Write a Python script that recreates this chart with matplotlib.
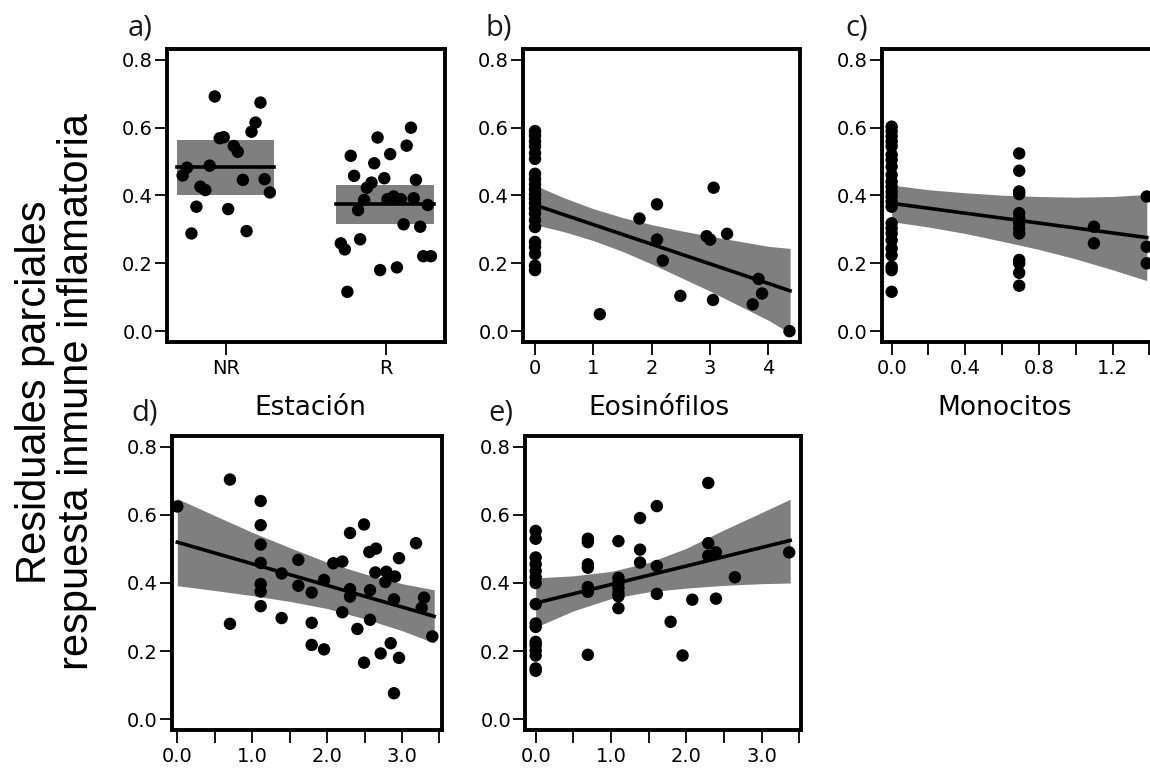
import matplotlib.pyplot as plt
import numpy as np

plt.rcParams['font.family'] = ['Liberation Sans', 'DejaVu Sans']

W, H = 1150, 769
ylo, yhi = -0.032, 0.832
yticks = [0.0, 0.2, 0.4, 0.6, 0.8]

# a) Estación (NR / R), jittered x positions around category 1 and 2
est_cats = ['NR', 'R']
nr_x = [0.929, 1.215, 1.184, 1.159, 0.960, 0.985, 1.048, 1.073, 0.755, 0.728,
        0.897, 0.839, 0.870, 1.241, 1.105, 1.274, 0.814, 1.013, 0.783, 1.128]
nr_y = [0.692, 0.674, 0.615, 0.588, 0.569, 0.572, 0.546, 0.529, 0.482, 0.459,
        0.488, 0.426, 0.416, 0.448, 0.446, 0.409, 0.367, 0.360, 0.288, 0.295]
r_x = [2.157, 1.948, 1.780, 2.130, 2.027, 1.927, 1.801, 1.990, 2.188, 1.910,
       1.881, 1.864, 1.826, 2.010, 2.048, 2.094, 2.174, 2.262, 2.111, 2.215,
       1.718, 1.743, 1.839, 2.234, 2.282, 1.964, 2.069, 1.759]
r_y = [0.600, 0.571, 0.517, 0.547, 0.522, 0.495, 0.458, 0.451, 0.446, 0.438,
       0.423, 0.387, 0.357, 0.389, 0.397, 0.389, 0.392, 0.372, 0.315, 0.308,
       0.259, 0.241, 0.271, 0.221, 0.221, 0.180, 0.188, 0.116]
est_fit = [0.483, 0.374]
est_lo = [0.401, 0.316]
est_hi = [0.564, 0.431]

# b) Eosinófilos
eos_x = [0] * 22 + [1.11, 1.79, 2.09, 2.09, 2.19, 2.49, 2.94, 3.00, 3.06, 3.05,
                    3.29, 3.83, 3.89, 3.73, 4.36]
eos_y = [0.590, 0.577, 0.560, 0.545, 0.525, 0.508, 0.464, 0.448, 0.433, 0.418,
         0.403, 0.390, 0.377, 0.362, 0.347, 0.327, 0.307, 0.263, 0.248, 0.228,
         0.193, 0.180,
         0.050, 0.332, 0.374, 0.270, 0.208, 0.104, 0.280, 0.270, 0.423, 0.092,
         0.287, 0.154, 0.111, 0.079, 0.000]
eos_fit_x = [0, 4.37]
eos_fit_y = [0.372, 0.119]
eos_band_x = [0, 0.5, 1, 1.5, 2, 2.5, 3, 3.5, 4, 4.37]
eos_band_hi = [0.430, 0.393, 0.361, 0.335, 0.314, 0.296, 0.280, 0.265, 0.250, 0.244]
eos_band_lo = [0.314, 0.293, 0.267, 0.235, 0.198, 0.158, 0.118, 0.075, 0.032, -0.006]

# c) Monocitos
mono_x = [0] * 24 + [0.693] * 13 + [1.099] * 2 + [1.386] * 3
mono_y = [0.603, 0.589, 0.574, 0.559, 0.545, 0.520, 0.505, 0.485, 0.461, 0.441,
          0.426, 0.411, 0.397, 0.382, 0.367, 0.318, 0.303, 0.288, 0.268, 0.244,
          0.224, 0.190, 0.180, 0.116,
          0.524, 0.473, 0.412, 0.404, 0.348, 0.333, 0.318, 0.303, 0.288, 0.210,
          0.200, 0.172, 0.134,
          0.308, 0.259,
          0.397, 0.249, 0.200]
mono_fit_x = [0, 1.386]
mono_fit_y = [0.377, 0.276]
mono_band_x = [0, 0.2, 0.4, 0.6, 0.8, 1.0, 1.2, 1.386]
mono_band_hi = [0.431, 0.417, 0.408, 0.401, 0.397, 0.395, 0.397, 0.403]
mono_band_lo = [0.323, 0.307, 0.288, 0.265, 0.241, 0.213, 0.181, 0.149]

# d)
d_x = [0.0, 0.703, 0.703, 1.113, 1.113, 1.113, 1.113, 1.113, 1.113, 1.113,
       1.393, 1.393, 1.616, 1.616, 1.794, 1.794, 1.794, 1.959, 1.959, 2.083,
       2.203, 2.203, 2.306, 2.306, 2.306, 2.404, 2.493, 2.493, 2.564, 2.653,
       2.573, 2.573, 2.644, 2.791, 2.777, 2.907, 2.893, 2.715, 2.849, 2.960,
       2.893, 2.960, 3.187, 3.263, 3.294, 3.405]
d_y = [0.625, 0.704, 0.280, 0.641, 0.570, 0.513, 0.459, 0.397, 0.375, 0.332,
       0.428, 0.297, 0.468, 0.392, 0.372, 0.283, 0.218, 0.205, 0.409, 0.458,
       0.463, 0.314, 0.547, 0.382, 0.360, 0.265, 0.572, 0.166, 0.491, 0.501,
       0.379, 0.292, 0.431, 0.433, 0.403, 0.419, 0.352, 0.193, 0.223, 0.180,
       0.076, 0.473, 0.517, 0.327, 0.357, 0.243]
d_fit_x = [0, 3.43]
d_fit_y = [0.520, 0.302]
d_band_x = [0, 0.5, 1, 1.5, 2, 2.5, 3, 3.43]
d_band_hi = [0.648, 0.598, 0.549, 0.504, 0.461, 0.427, 0.398, 0.380]
d_band_lo = [0.392, 0.378, 0.363, 0.346, 0.325, 0.295, 0.260, 0.224]

# e)
e_x = [0] * 16 + [0.693] * 7 + [1.099] * 7 + [1.386] * 3 + [1.609] * 3 + \
      [1.792, 1.951, 2.080, 2.292, 2.292, 2.292, 2.394, 2.394, 2.646, 3.367]
e_y = [0.553, 0.530, 0.475, 0.455, 0.435, 0.417, 0.400, 0.338, 0.281, 0.271,
       0.227, 0.217, 0.202, 0.187, 0.149, 0.142,
       0.530, 0.520, 0.455, 0.445, 0.388, 0.374, 0.189,
       0.523, 0.415, 0.400, 0.386, 0.371, 0.361, 0.326,
       0.591, 0.498, 0.460,
       0.626, 0.450, 0.368,
       0.286, 0.187, 0.351, 0.694, 0.517, 0.480, 0.490, 0.354, 0.417, 0.490]
e_fit_x = [0, 3.38]
e_fit_y = [0.341, 0.525]
e_band_x = [0, 0.5, 1, 1.5, 2, 2.5, 3, 3.38]
e_band_hi = [0.415, 0.421, 0.434, 0.460, 0.502, 0.556, 0.607, 0.646]
e_band_lo = [0.270, 0.318, 0.354, 0.374, 0.385, 0.393, 0.398, 0.400]

BAND = '#7f7f7f'
PT = dict(s=80, color='black', edgecolors='none', zorder=4)
TICKFONT = 'DejaVu Sans'


def box(l, t, r, b):
    # pixel box -> figure fraction rectangle
    return [l / W, 1 - b / H, (r - l) / W, (b - t) / H]


def style(ax, xlim, xticks, xlabels):
    ax.set_xlim(*xlim)
    ax.set_ylim(ylo, yhi)
    ax.set_yticks(yticks)
    ax.set_yticklabels(['%.1f' % v for v in yticks], family=TICKFONT)
    ax.set_xticks(xticks)
    ax.set_xticklabels(xlabels, family=TICKFONT)
    for sp in ax.spines.values():
        sp.set_linewidth(2.8)
    ax.tick_params(direction='out', length=9, width=1.3, labelsize=14)
    ax.tick_params(axis='y', pad=1)
    ax.tick_params(axis='x', pad=3)


def fitpanel(ax, x, y, fx, fy, bx, blo, bhi):
    ax.fill_between(bx, blo, bhi, color=BAND, lw=0, zorder=1)
    ax.plot(fx, fy, color='black', lw=2.6, zorder=3)
    ax.scatter(x, y, **PT)


fig = plt.figure(figsize=(W / 100, H / 100), dpi=100)

ax_a = fig.add_axes(box(167, 49, 445, 342))
for i, (f, lo, hi) in enumerate(zip(est_fit, est_lo, est_hi)):
    pos = i + 1
    ax_a.fill_between([pos - 0.31, pos + 0.3], lo, hi, color=BAND, lw=0, zorder=1)
    ax_a.plot([pos - 0.31, pos + 0.3], [f, f], color='black', lw=2.6, zorder=3)
ax_a.scatter(nr_x, nr_y, **PT)
ax_a.scatter(r_x, r_y, **PT)
style(ax_a, (0.63, 2.37), [1, 2], est_cats)

ax_b = fig.add_axes(box(523, 49, 800, 342))
fitpanel(ax_b, eos_x, eos_y, eos_fit_x, eos_fit_y, eos_band_x, eos_band_lo, eos_band_hi)
style(ax_b, (-0.206, 4.54), [0, 1, 2, 3, 4], ['0', '1', '2', '3', '4'])

ax_c = fig.add_axes(box(881.7, 49, 1156.7, 342))
fitpanel(ax_c, mono_x, mono_y, mono_fit_x, mono_fit_y, mono_band_x, mono_band_lo, mono_band_hi)
c_ticks = [0.0, 0.2, 0.4, 0.6, 0.8, 1.0, 1.2, 1.4]
style(ax_c, (-0.054, 1.44), c_ticks,
      ['%.1f' % v if i % 2 == 0 else '' for i, v in enumerate(c_ticks)])

half_ticks = [0.0, 0.5, 1.0, 1.5, 2.0, 2.5, 3.0, 3.5]
half_labels = ['%.1f' % v if i % 2 == 0 else '' for i, v in enumerate(half_ticks)]

ax_d = fig.add_axes(box(171.7, 436, 441.7, 730))
fitpanel(ax_d, d_x, d_y, d_fit_x, d_fit_y, d_band_x, d_band_lo, d_band_hi)
style(ax_d, (-0.075, 3.53), half_ticks, half_labels)

ax_e = fig.add_axes(box(525, 436, 800.7, 730))
fitpanel(ax_e, e_x, e_y, e_fit_x, e_fit_y, e_band_x, e_band_lo, e_band_hi)
style(ax_e, (-0.142, 3.52), half_ticks, half_labels)

# panel letters
for lab, px, py in [('a)', 128, 35), ('b)', 485, 35), ('c)', 845, 35),
                    ('d)', 131.7, 420), ('e)', 488, 420)]:
    fig.text(px / W, 1 - py / H, lab, family='Open Sans', fontsize=21,
             color='#1a1a1a', ha='left', va='baseline')

# axis titles for the top row
for lab, px in [('Estación', 310), ('Eosinófilos', 659), ('Monocitos', 1005)]:
    fig.text(px / W, 1 - 415 / H, lab, family=TICKFONT, fontsize=19,
             ha='center', va='baseline')

fig.text(56 / W, 1 - 392 / H, 'Residuales parciales\nrespuesta inmune inflamatoria',
         rotation=90, fontsize=30, ha='center', va='center',
         multialignment='center', linespacing=1.05)

fig.savefig('out.png', dpi=100)
